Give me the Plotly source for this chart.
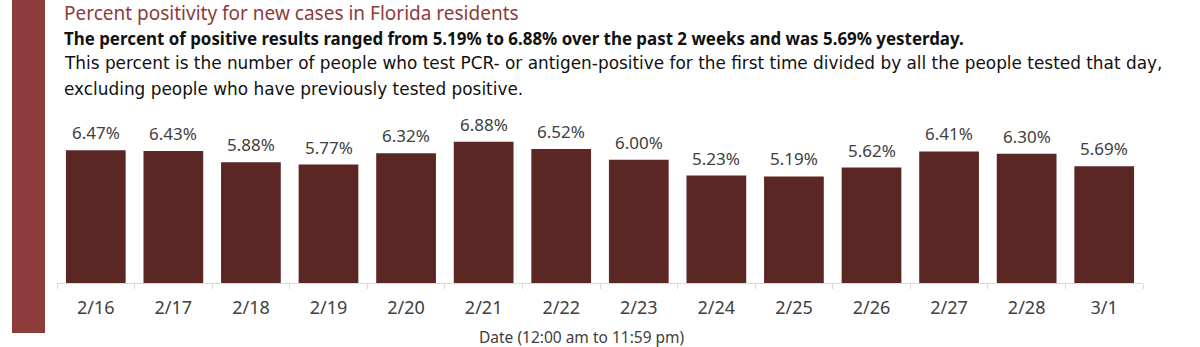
import plotly.graph_objects as go

dates = ["2/16", "2/17", "2/18", "2/19", "2/20", "2/21", "2/22", "2/23", "2/24", "2/25", "2/26", "2/27", "2/28", "3/1"]
positivity = [6.47, 6.43, 5.88, 5.77, 6.32, 6.88, 6.52, 6.00, 5.23, 5.19, 5.62, 6.41, 6.30, 5.69]

title_text = "Percent positivity for new cases in Florida residents"
subtitle_text = "The percent of positive results ranged from 5.19% to 6.88% over the past 2 weeks and was 5.69% yesterday."
note_line1 = "This percent is the number of people who test PCR- or antigen-positive for the first time divided by all the people tested that day,"
note_line2 = "excluding people who have previously tested positive."
x_title = "Date (12:00 am to 11:59 pm)"

W, H = 1200, 347
L, R, T, B = 57, 57, 129, 64
plot_w = W - L - R
plot_h = H - T - B

def px_x(px):
    return (px - L) / plot_w

def px_y(py):
    return (H - B - py) / plot_h

FONT = "Noto Sans"
bar_color = "#5A2724"
accent = "#8E3B3B"
label_color = "#404040"

fig = go.Figure(go.Bar(
    x=dates, y=positivity,
    marker=dict(color=bar_color, line=dict(width=0)),
    hoverinfo="x+y",
))

value_annotations = [
    dict(x=d, y=v, xref="x", yref="y", text=f"{v:.2f}%", showarrow=False,
         xanchor="center", yanchor="bottom", yshift=4,
         font=dict(family=FONT, size=17, color=label_color))
    for d, v in zip(dates, positivity)
]

text_annotations = [
    dict(text=title_text, xref="paper", yref="paper", x=px_x(62), y=px_y(13),
         xanchor="left", yanchor="middle", showarrow=False,
         font=dict(family=FONT, size=19, color=accent)),
    dict(text="<b>" + subtitle_text + "</b>", xref="paper", yref="paper", x=px_x(62), y=px_y(38),
         xanchor="left", yanchor="middle", showarrow=False,
         font=dict(family=FONT, size=16.9, color="#111111")),
    dict(text=note_line1, xref="paper", yref="paper", x=px_x(62), y=px_y(63),
         xanchor="left", yanchor="middle", showarrow=False,
         font=dict(family="DejaVu Sans", size=16.9, color="#111111")),
    dict(text=note_line2, xref="paper", yref="paper", x=px_x(62), y=px_y(89),
         xanchor="left", yanchor="middle", showarrow=False,
         font=dict(family="DejaVu Sans", size=16.9, color="#111111")),
    dict(text=x_title, xref="paper", yref="paper", x=px_x(582), y=px_y(337),
         xanchor="center", yanchor="middle", showarrow=False,
         font=dict(family=FONT, size=15.5, color=label_color)),
]

fig.update_layout(
    width=W, height=H,
    margin=dict(l=L, r=R, t=T, b=B),
    plot_bgcolor="white", paper_bgcolor="white",
    bargap=0.23,
    showlegend=False,
    xaxis=dict(
        showline=True, linecolor="#D9D9D9", linewidth=1,
        ticks="outside", tickcolor="#D9D9D9", ticklen=5,
        tickson="boundaries",
        ticklabelstandoff=8,
        tickfont=dict(family=FONT, size=18, color=label_color),
    ),
    yaxis=dict(range=[0, 7.5], visible=False, showgrid=False),
    shapes=[dict(type="rect", xref="paper", yref="paper",
                 x0=px_x(12), x1=px_x(45), y0=px_y(333), y1=px_y(0),
                 fillcolor=accent, line=dict(width=0), layer="above")],
    annotations=value_annotations + text_annotations,
)

fig.write_html("out.html")
